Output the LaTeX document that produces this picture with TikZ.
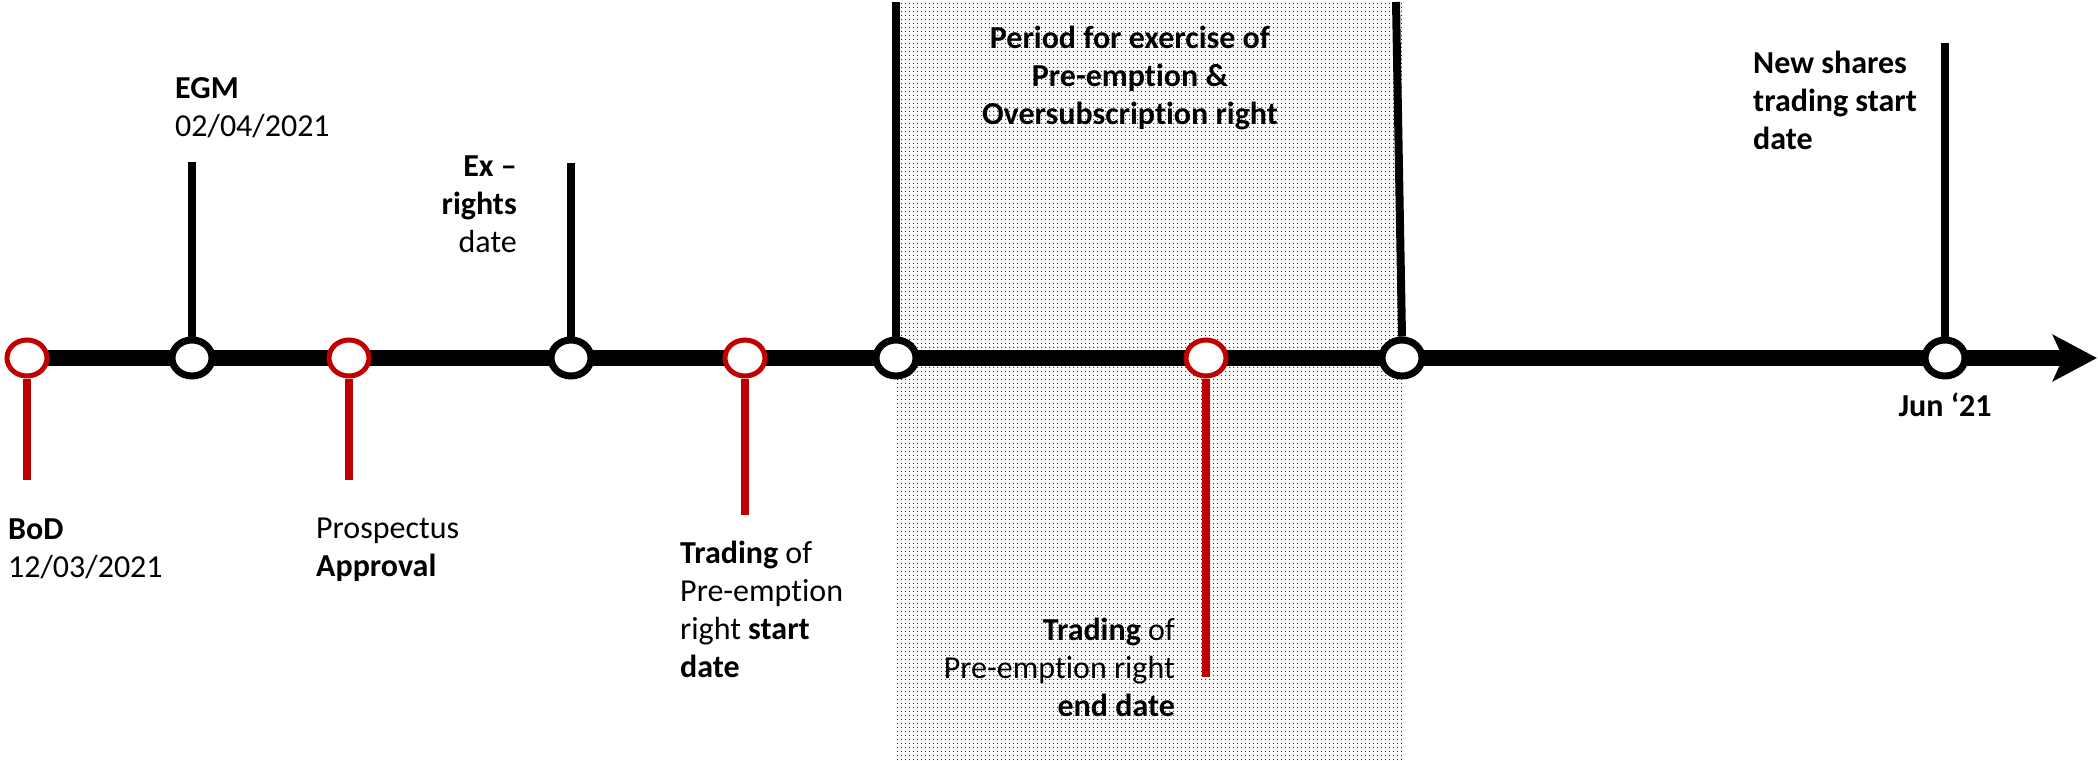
\documentclass[tikz,border=0pt]{standalone}
\usepackage{fontspec}
\setmainfont{Carlito}[Ligatures={TeX,NoCommon}]
\usetikzlibrary{arrows.meta,shapes.geometric,patterns,backgrounds}

\definecolor{evred}{HTML}{C00000}
\newcommand{\lblfont}{\fontsize{32}{38}\selectfont}
\pgfdeclarepatternformonly{finedots}{\pgfpointorigin}{\pgfqpoint{4pt}{4pt}}{\pgfqpoint{4pt}{4pt}}%
  {\pgfpathcircle{\pgfqpoint{2pt}{2pt}}{0.85pt}\pgfusepath{fill}}

\tikzset{
  event/.style={ellipse, draw=black, line width=7pt, fill=white,
    minimum width=40pt, minimum height=36pt, inner sep=0pt},
  redevent/.style={event, draw=evred, line width=5pt},
  stem/.style={line width=8pt},
  redstem/.style={stem, draw=evred},
  axis/.style={line width=16pt, -{Stealth[length=44pt, width=46pt, inset=10pt]}},
  lbl/.style={font=\lblfont, inner sep=0pt},
  boldlbl/.style={font=\lblfont\bfseries, inner sep=0pt}
}

\begin{document}
\begin{tikzpicture}[x=1pt, y=-1pt]
  \useasboundingbox (0,0) rectangle (2098,760);

  % events on the time line
  \node[redevent] (bod)    at (27,358)   {};
  \node[event]    (egm)    at (192,358)  {};
  \node[redevent] (prosp)  at (349,358)  {};
  \node[event]    (exr)    at (571,358)  {};
  \node[redevent] (tstart) at (745,358)  {};
  \node[event]    (pstart) at (896,358)  {};
  \node[redevent] (tend)   at (1206,358) {};
  \node[event]    (pend)   at (1402,358) {};
  \node[event]    (newsh)  at (1945,358) {};
  \coordinate (tip) at (2097,358);

  % free ends of the stems
  \coordinate (bodE)    at (27,480);
  \coordinate (egmE)    at (192,162);
  \coordinate (prospE)  at (349,480);
  \coordinate (exrE)    at (571,163);
  \coordinate (tstartE) at (745,515);
  \coordinate (tendE)   at (1206,677);
  \coordinate (pstartE) at (896,2);
  \coordinate (pendE)   at (1396,2);
  \coordinate (newshE)  at (1945,43);

  \begin{scope}[on background layer]
    \fill[pattern=finedots, pattern color=black!85] (896,0) rectangle (1402,760);
    \draw[axis] (bod.center) -- (tip);
  \end{scope}

  \draw[redstem] (bod.south) -- (bodE);
  \draw[stem] (egm.north) -- (egmE);
  \draw[redstem] (prosp.south) -- (prospE);
  \draw[stem] (exr.north) -- (exrE);
  \draw[redstem] (tstart.south) -- (tstartE);
  \draw[stem] (pstart.north) -- (pstartE);
  \draw[redstem] (tend.south) -- (tendE);
  \draw[stem] (pend.north) -- (pendE);
  \draw[stem] (newsh.north) -- (newshE);

  % labels (anchored on the baseline of their last line)
  \node[lbl, align=left, anchor=base west] (bodlbl) at (8,577) {\textbf{BoD}\\12/03/2021};
  \node[lbl, align=left, anchor=base west] (egmlbl) at (175,136) {\textbf{EGM}\\02/04/2021};
  \node[lbl, align=left, anchor=base west] (prosplbl) at (316,576) {Prospectus\\\textbf{Approval}};
  \node[lbl, align=right, anchor=base east] (exrlbl) at (517,252) {\textbf{Ex --}\\\textbf{rights}\\date};
  \node[lbl, align=left, anchor=base west] (tstartlbl) at (680,677)
    {\textbf{Trading} of\\Pre-emption\\right \textbf{start}\\\textbf{date}};
  \node[boldlbl, align=center, anchor=base] (periodlbl) at (1130,124)
    {Period for exercise of\\Pre-emption \&\\Oversubscription right};
  \node[lbl, align=right, anchor=base east] (tendlbl) at (1175,716)
    {\textbf{Trading} of\\Pre-emption right\\\textbf{end date}};
  \node[boldlbl, align=left, anchor=base west] (newshlbl) at (1753,149)
    {New shares\\trading start\\date};
  \node[boldlbl, anchor=base] (junlbl) at (1945,416) {Jun `21};
\end{tikzpicture}
\end{document}
